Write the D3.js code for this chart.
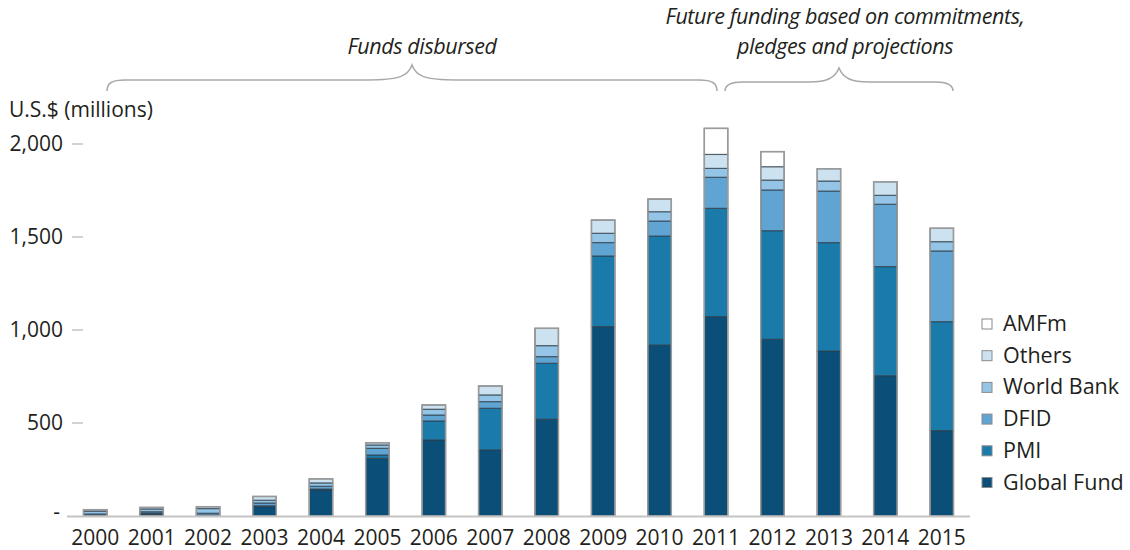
<!DOCTYPE html>
<html>
<head>
<meta charset="utf-8">
<script src="https://cdn.jsdelivr.net/npm/d3@7"></script>
<style>
  body { margin: 0; background: #fff; }
  text { font-family: "Open Sans", sans-serif; fill: #231f20; }
</style>
</head>
<body>
<svg id="chart" width="1130" height="550"></svg>
<script>
// data (U.S.$ millions)
var years = ["2000","2001","2002","2003","2004","2005","2006","2007","2008","2009","2010","2011","2012","2013","2014","2015"];
var globalFund = [3, 10, 3, 50, 140, 310, 409, 355, 520, 1018, 919, 1072, 950, 887, 754, 459];
var pmi        = [0, 5, 2, 5, 5, 18, 102, 224, 301, 380, 586, 582, 584, 583, 587, 586];
var dfid       = [8, 8, 10, 15, 15, 36, 32, 36, 36, 72, 81, 167, 219, 277, 335, 380];
var worldBank  = [15, 15, 25, 15, 18, 18, 31, 36, 59, 50, 50, 48, 53, 54, 48, 50];
var others     = [8, 8, 10, 20, 22, 12, 23, 48, 93, 71, 68, 75, 72, 66, 73, 72];
var amfm       = [0, 0, 0, 0, 0, 0, 0, 0, 0, 0, 0, 140, 81, 0, 0, 0];

var seriesNames = ["Global Fund", "PMI", "DFID", "World Bank", "Others", "AMFm"];
var seriesColors = ["#0b4f78", "#1a7bab", "#5fa4d3", "#95c5e6", "#cde2f1", "#ffffff"];
var yTicks = [0, 500, 1000, 1500, 2000];

var table = years.map(function(y, i) {
  return {year: y, "Global Fund": globalFund[i], "PMI": pmi[i], "DFID": dfid[i],
          "World Bank": worldBank[i], "Others": others[i], "AMFm": amfm[i]};
});

var svg = d3.select("#chart");

var x = d3.scaleBand().domain(years).range([67, 970]).paddingInner(0.585).paddingOuter(0.2925);
var y = d3.scaleLinear().domain([0, 2000]).range([516, 144]);
var color = d3.scaleOrdinal().domain(seriesNames).range(seriesColors);

var stacked = d3.stack().keys(seriesNames)(table);

// y axis: ticks and labels
var yAxis = svg.append("g");
yAxis.selectAll("line").data(yTicks.filter(function(d){ return d > 0; })).enter().append("line")
  .attr("x1", 72).attr("x2", 83)
  .attr("y1", function(d){ return y(d); }).attr("y2", function(d){ return y(d); })
  .attr("stroke", "#b5b5b5").attr("stroke-width", 1.2);
yAxis.selectAll("text").data(yTicks).enter().append("text")
  .attr("x", function(d){ return d === 0 ? 60 : 63; })
  .attr("y", function(d){ return y(d) + (d === 0 ? 3 : 7); })
  .attr("text-anchor", "end")
  .attr("font-size", "21px")
  .text(function(d){ return d === 0 ? "-" : d3.format(",")(d); });

svg.append("text").attr("x", 9).attr("y", 117).attr("font-size", "21px").text("U.S.$ (millions)");

// bars
var layers = svg.append("g").selectAll("g").data(stacked).enter().append("g")
  .attr("fill", function(d){ return color(d.key); });

layers.selectAll("rect").data(function(d){ return d; }).enter().append("rect")
  .filter(function(d){ return d[1] - d[0] > 0; })
  .attr("x", function(d){ return x(d.data.year); })
  .attr("width", x.bandwidth())
  .attr("y", function(d){ return y(d[1]); })
  .attr("height", function(d){ return y(d[0]) - y(d[1]); })
  .attr("stroke", "#2f3d47").attr("stroke-opacity", 0.7).attr("stroke-width", 1.2);

// outline of each whole bar
svg.append("g").selectAll("rect").data(table).enter().append("rect")
  .attr("x", function(d){ return x(d.year); })
  .attr("width", x.bandwidth())
  .attr("y", function(d){ return y(d3.sum(seriesNames, function(k){ return d[k]; })); })
  .attr("height", function(d){ return y(0) - y(d3.sum(seriesNames, function(k){ return d[k]; })); })
  .attr("fill", "none").attr("stroke", "#9a9a9a").attr("stroke-width", 1.5);

// x axis
svg.append("line").attr("x1", 67).attr("x2", 970).attr("y1", 516.5).attr("y2", 516.5)
  .attr("stroke", "#c4c4c4").attr("stroke-width", 2);
svg.append("g").selectAll("text").data(years).enter().append("text")
  .attr("x", function(d){ return x(d) + x.bandwidth() / 2; })
  .attr("y", 545)
  .attr("text-anchor", "middle")
  .attr("font-size", "21px")
  .text(function(d){ return d; });

// braces and period labels
function brace(x0, x1, yEnd, yMid, yPeak, arm) {
  var xm = (x0 + x1) / 2;
  return "M" + x0 + "," + yEnd +
    " C" + x0 + "," + (yMid + 3) + " " + (x0 + 5) + "," + yMid + " " + (x0 + 18) + "," + yMid +
    " L" + (xm - arm) + "," + yMid +
    " C" + (xm - 12) + "," + yMid + " " + (xm - 4) + "," + (yMid - 4) + " " + xm + "," + yPeak +
    " C" + (xm + 4) + "," + (yMid - 4) + " " + (xm + 12) + "," + yMid + " " + (xm + arm) + "," + yMid +
    " L" + (x1 - 18) + "," + yMid +
    " C" + (x1 - 5) + "," + yMid + " " + x1 + "," + (yMid + 3) + " " + x1 + "," + yEnd;
}
svg.append("path").attr("d", brace(107, 717, 91, 80, 65, 45))
  .attr("fill", "none").attr("stroke", "#a8a8a8").attr("stroke-width", 1.5);
svg.append("path").attr("d", brace(725, 953, 91, 82, 68, 30))
  .attr("fill", "none").attr("stroke", "#a8a8a8").attr("stroke-width", 1.5);

svg.append("text").attr("x", 422).attr("y", 54).attr("text-anchor", "middle")
  .attr("font-size", "21.5px").attr("font-style", "italic").attr("letter-spacing", "-0.4")
  .text("Funds disbursed");
svg.append("text").attr("x", 845).attr("y", 24).attr("text-anchor", "middle")
  .attr("font-size", "21.5px").attr("font-style", "italic").attr("letter-spacing", "-0.4")
  .text("Future funding based on commitments,");
svg.append("text").attr("x", 845).attr("y", 54).attr("text-anchor", "middle")
  .attr("font-size", "21.5px").attr("font-style", "italic").attr("letter-spacing", "-0.4")
  .text("pledges and projections");

// legend (top to bottom: AMFm ... Global Fund)
var legendItems = seriesNames.slice().reverse();
var legend = svg.append("g").selectAll("g").data(legendItems).enter().append("g")
  .attr("transform", function(d, i){ return "translate(982," + (324 + i * 31.7) + ")"; });
legend.append("rect").attr("x", 0).attr("y", -5).attr("width", 10).attr("height", 10)
  .attr("fill", function(d){ return color(d); })
  .attr("stroke", "#8a8a8a").attr("stroke-width", 1);
legend.append("text").attr("x", 21).attr("y", 7).attr("font-size", "21.5px")
  .text(function(d){ return d; });
</script>
</body>
</html>
